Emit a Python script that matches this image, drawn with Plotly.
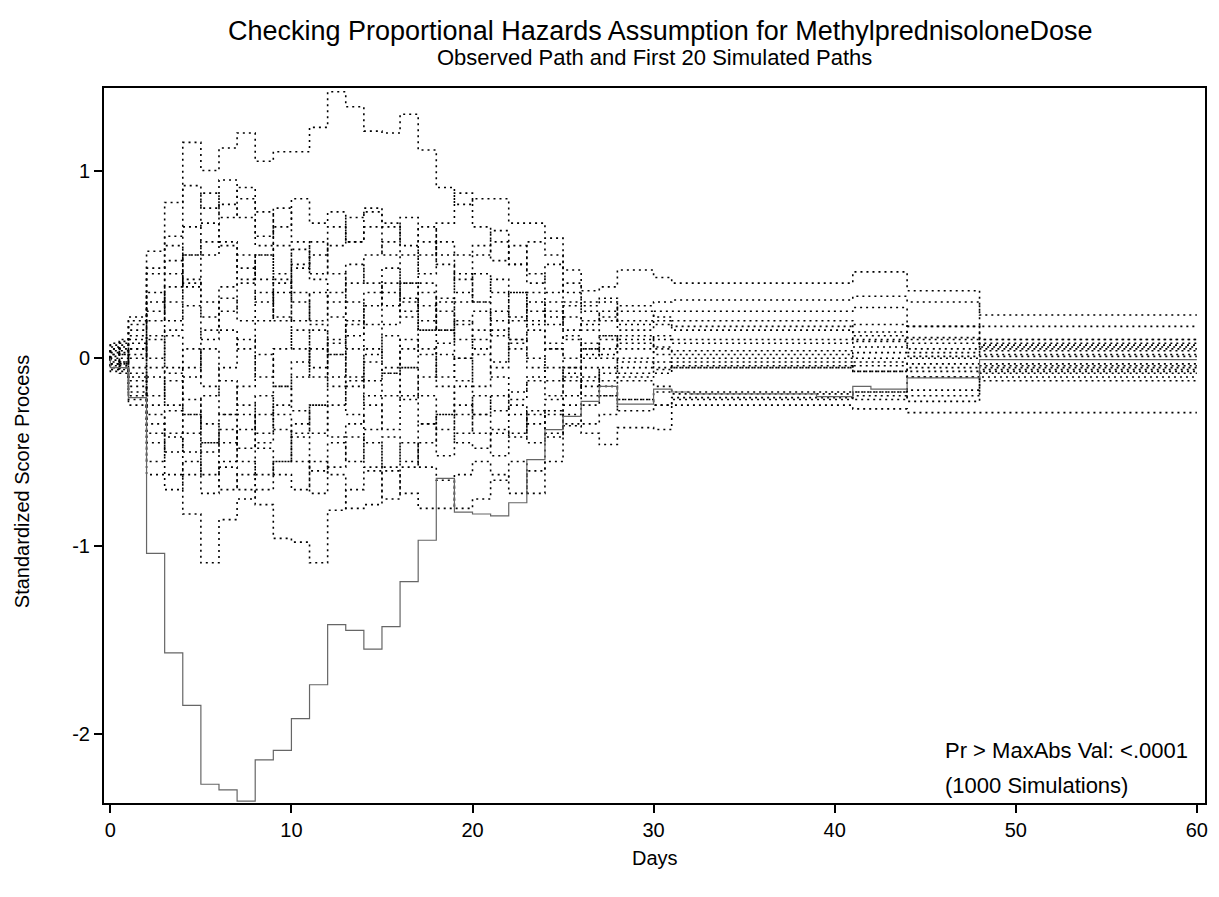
import plotly.graph_objects as go

# event times (days) at which the simulated score paths jump
sim_days = [0, 0.5, 1, 2, 3, 4, 5, 6, 7, 8, 9, 10, 11, 12, 13, 14, 15, 16, 17,
            18, 19, 20, 21, 22, 23, 24, 25, 26, 27, 28, 30, 31, 41, 44, 48]
end_day = 60

# observed path
obs_days = [0, 0, 1, 2, 3, 4, 5, 6, 7, 8, 9, 10, 11, 12, 13, 14, 15, 16, 17, 18, 19,
            20, 21, 22, 23, 24, 25, 26, 27, 28, 30, 31, 32, 39, 41, 42, 44, 48]
obs_vals = [0, -0.05, -0.21, -1.04, -1.57, -1.85, -2.27, -2.30, -2.36, -2.14, -2.09,
            -1.92, -1.74, -1.42, -1.45, -1.55, -1.43, -1.19, -0.97, -0.64, -0.82,
            -0.83, -0.84, -0.77, -0.54, -0.38, -0.31, -0.23, -0.15, -0.245, -0.165,
            -0.18, -0.19, -0.205, -0.15, -0.165, -0.105, -0.007]

# first 20 simulated paths, one value per entry of sim_days
sim01 = [0.05, 0.08, 0.22, 0.57, 0.83, 1.15, 1.00, 1.12, 1.20, 1.05, 1.10, 1.10, 1.23, 1.42, 1.34, 1.21, 1.20, 1.30,
         1.11, 0.91, 0.82, 0.85, 0.85, 0.72, 0.72, 0.64, 0.47, 0.36, 0.38, 0.47, 0.43, 0.40, 0.46, 0.36, 0.23]
sim02 = [-0.03, -0.06, -0.15, -0.45, -0.62, -0.83, -1.09, -0.86, -0.75, -0.62, -0.55, -0.35, -0.25, -0.10, 0.05, -0.12,
         -0.05, 0.10, 0.02, -0.15, -0.30, -0.20, -0.28, -0.18, -0.10, -0.05, -0.12, -0.20, -0.15, -0.22, -0.18, -0.19,
         -0.20, -0.17, -0.10]
sim03 = [0.02, -0.04, -0.10, -0.30, -0.42, -0.50, -0.62, -0.58, -0.70, -0.78, -0.96, -0.98, -1.09, -0.81, -0.70, -0.60,
         -0.42, -0.55, -0.35, -0.30, -0.45, -0.48, -0.38, -0.42, -0.30, -0.28, -0.36, -0.40, -0.46, -0.37, -0.38, -0.25,
         -0.27, -0.29, -0.29]
sim04 = [0.08, 0.10, 0.15, 0.30, 0.52, 0.70, 0.88, 0.75, 0.91, 0.78, 0.60, 0.48, 0.55, 0.70, 0.62, 0.78, 0.72, 0.60,
         0.45, 0.62, 0.55, 0.60, 0.52, 0.60, 0.40, 0.50, 0.30, 0.25, 0.20, 0.28, 0.30, 0.31, 0.33, 0.30, 0.17]
sim05 = [-0.05, -0.02, 0.05, 0.25, 0.45, 0.38, 0.55, 0.62, 0.48, 0.30, 0.42, 0.20, 0.35, 0.22, 0.40, 0.55, 0.62, 0.75,
         0.62, 0.50, 0.35, 0.30, 0.42, 0.35, 0.25, 0.18, 0.22, 0.15, 0.12, 0.10, 0.12, 0.10, 0.12, 0.08, 0.08]
sim06 = [0.03, 0.06, -0.05, -0.20, -0.05, -0.22, -0.35, -0.45, -0.30, -0.48, -0.62, -0.70, -0.55, -0.62, -0.80, -0.78,
         -0.60, -0.72, -0.80, -0.80, -0.62, -0.55, -0.62, -0.72, -0.60, -0.40, -0.30, -0.35, -0.30, -0.22, -0.25, -0.22,
         -0.18, -0.23, -0.12]
sim07 = [-0.06, -0.03, 0.10, 0.35, 0.20, 0.42, 0.30, 0.15, 0.05, 0.20, 0.35, 0.50, 0.62, 0.45, 0.30, 0.18, 0.35, 0.22,
         0.40, 0.25, 0.10, 0.05, 0.15, 0.05, -0.05, 0.05, 0.00, 0.08, 0.05, 0.12, 0.06, 0.04, 0.06, 0.03, 0.04]
sim08 = [0.00, 0.04, -0.20, -0.10, -0.25, -0.40, -0.20, -0.05, 0.10, -0.10, 0.05, 0.15, -0.05, 0.10, -0.10, -0.25,
         -0.38, -0.20, -0.35, -0.52, -0.40, -0.30, -0.20, -0.30, -0.45, -0.30, -0.20, -0.10, -0.20, -0.12, -0.15, -0.18,
         -0.18, -0.10, -0.06]
sim09 = [0.06, 0.02, 0.00, 0.12, 0.30, 0.55, 0.62, 0.82, 0.75, 0.60, 0.45, 0.30, 0.20, 0.35, 0.50, 0.40, 0.28, 0.40,
         0.55, 0.72, 0.88, 0.70, 0.62, 0.50, 0.62, 0.55, 0.35, 0.28, 0.30, 0.20, 0.25, 0.25, 0.27, 0.17, 0.10]
sim10 = [-0.02, 0.00, -0.08, -0.35, -0.50, -0.30, -0.45, -0.70, -0.62, -0.45, -0.30, -0.42, -0.60, -0.45, -0.55, -0.38,
         -0.20, -0.05, 0.05, -0.10, 0.00, -0.15, -0.05, 0.10, 0.00, -0.12, -0.05, 0.02, 0.00, -0.05, -0.02, -0.05,
         -0.04, -0.03, -0.03]
sim11 = [0.04, 0.07, 0.12, 0.00, 0.15, 0.28, 0.10, 0.25, 0.40, 0.55, 0.70, 0.85, 0.72, 0.78, 0.62, 0.70, 0.55, 0.40,
         0.28, 0.15, 0.30, 0.45, 0.35, 0.22, 0.35, 0.25, 0.15, 0.20, 0.25, 0.18, 0.20, 0.17, 0.18, 0.11, 0.05]
sim12 = [-0.04, -0.07, -0.18, -0.40, -0.28, -0.10, 0.05, -0.12, -0.25, -0.40, -0.25, -0.10, 0.05, -0.15, -0.30, -0.45,
         -0.58, -0.45, -0.58, -0.65, -0.80, -0.75, -0.65, -0.55, -0.72, -0.55, -0.35, -0.25, -0.20, -0.28, -0.25, -0.21,
         -0.22, -0.20, -0.07]
sim13 = [0.01, 0.05, 0.18, 0.45, 0.60, 0.40, 0.22, 0.38, 0.55, 0.42, 0.22, 0.05, -0.10, 0.08, 0.20, 0.05, -0.08, 0.05,
         0.20, 0.32, 0.18, 0.25, 0.12, 0.20, 0.30, 0.22, 0.28, 0.18, 0.22, 0.15, 0.18, 0.15, 0.10, 0.10, 0.06]
sim14 = [-0.01, -0.05, -0.12, 0.10, -0.08, 0.05, -0.15, -0.30, -0.15, 0.02, -0.15, -0.28, -0.40, -0.25, -0.12, 0.02,
         0.18, 0.30, 0.15, 0.02, -0.12, 0.02, -0.10, -0.22, -0.12, -0.20, -0.08, -0.15, -0.05, -0.10, -0.08, -0.05,
         -0.02, -0.07, -0.05]
sim15 = [0.07, 0.02, 0.05, -0.25, -0.12, -0.30, -0.50, -0.38, -0.55, -0.70, -0.55, -0.40, -0.25, -0.42, -0.35, -0.20,
         -0.08, -0.22, -0.10, 0.08, 0.20, 0.10, -0.02, 0.08, 0.15, 0.05, -0.05, 0.05, 0.10, 0.00, 0.05, 0.02, 0.00,
         0.00, 0.02]
sim16 = [-0.07, -0.03, 0.02, 0.20, 0.38, 0.55, 0.72, 0.60, 0.42, 0.55, 0.40, 0.58, 0.45, 0.60, 0.75, 0.80, 0.70, 0.55,
         0.70, 0.55, 0.42, 0.55, 0.68, 0.50, 0.45, 0.35, 0.40, 0.30, 0.32, 0.25, 0.22, 0.20, 0.14, 0.17, 0.10]
sim17 = [0.02, -0.02, -0.22, -0.55, -0.40, -0.62, -0.45, -0.30, -0.48, -0.30, -0.15, -0.02, 0.15, 0.02, -0.15, -0.02,
         0.12, -0.05, -0.20, -0.38, -0.25, -0.40, -0.52, -0.40, -0.28, -0.42, -0.25, -0.12, -0.08, -0.02, -0.05, -0.02,
         -0.07, -0.05, -0.04]
sim18 = [-0.03, 0.03, 0.08, -0.05, 0.12, -0.05, 0.15, 0.32, 0.20, 0.35, 0.20, 0.35, 0.18, 0.02, 0.18, 0.35, 0.48, 0.32,
         0.15, 0.30, 0.45, 0.30, 0.20, 0.35, 0.18, 0.08, 0.12, 0.05, 0.02, 0.08, 0.02, 0.00, 0.03, 0.01, 0.01]
sim19 = [0.05, 0.09, 0.20, 0.48, 0.65, 0.92, 0.80, 0.95, 0.85, 0.65, 0.80, 0.62, 0.42, 0.30, 0.12, 0.28, 0.40, 0.25,
         0.35, 0.15, 0.00, 0.15, 0.25, 0.10, 0.20, 0.30, 0.10, 0.00, 0.12, 0.05, 0.10, 0.08, 0.09, 0.05, 0.07]
sim20 = [-0.06, -0.08, -0.25, -0.62, -0.70, -0.55, -0.72, -0.55, -0.38, -0.20, -0.38, -0.55, -0.72, -0.58, -0.42,
         -0.58, -0.75, -0.58, -0.45, -0.30, -0.15, -0.30, -0.40, -0.25, -0.35, -0.22, -0.10, -0.05, -0.12, -0.08, -0.06,
         -0.04, -0.07, -0.10, -0.08]

sims = [sim01, sim02, sim03, sim04, sim05, sim06, sim07, sim08, sim09, sim10,
        sim11, sim12, sim13, sim14, sim15, sim16, sim17, sim18, sim19, sim20]

x_ticks = [0, 10, 20, 30, 40, 50, 60]
y_ticks = [-2, -1, 0, 1]
y_tick_labels = ['-2', '-1', '0', '1']

font_family = 'Arial, "Liberation Sans", sans-serif'

fig = go.Figure()

for vals in sims:
    fig.add_trace(go.Scatter(x=[0] + sim_days + [end_day], y=[0] + vals + [vals[-1]],
                             mode='lines', line=dict(color='black', width=1.6, dash='2px,4px', shape='hv'),
                             hoverinfo='skip', showlegend=False))

fig.add_trace(go.Scatter(x=obs_days + [end_day], y=obs_vals + [obs_vals[-1]],
                         mode='lines', line=dict(color='#666666', width=1.2, shape='hv'),
                         showlegend=False))

fig.update_xaxes(range=[-0.35, 60.45], tickvals=x_ticks, ticks='outside', ticklen=8, tickwidth=1.5,
                 tickcolor='black', showgrid=False, zeroline=False, showline=True, mirror=True,
                 linecolor='black', linewidth=2, tickfont=dict(size=20, color='black'))
fig.update_yaxes(range=[-2.37, 1.44], tickvals=y_ticks, ticktext=y_tick_labels, ticks='outside', ticklen=8,
                 tickwidth=1.5, tickcolor='black', showgrid=False, zeroline=False, showline=True, mirror=True,
                 linecolor='black', linewidth=2, tickfont=dict(size=20, color='black'))

# the page body keeps an 8px margin, so the figure is drawn 8px smaller
annos = [
    dict(text='Checking Proportional Hazards Assumption for MethylprednisoloneDose', x=0.505, y=1.08,
         font=dict(size=27)),
    dict(text='Observed Path and First 20 Simulated Paths', x=0.5, y=1.042, font=dict(size=22)),
    dict(text='Days', x=0.5, y=-0.077, font=dict(size=20)),
    dict(text='Standardized Score Process', x=-0.0743, y=0.449, textangle=-90, font=dict(size=20)),
    dict(text='Pr > MaxAbs Val: <.0001', x=0.762, y=0.0741, xanchor='left', font=dict(size=22)),
    dict(text='(1000 Simulations)', x=0.762, y=0.0238, xanchor='left', font=dict(size=22)),
]
for a in annos:
    a.setdefault('xanchor', 'center')
    a['font']['color'] = 'black'
    fig.add_annotation(xref='paper', yref='paper', showarrow=False, yanchor='middle', **a)

fig.update_layout(width=1211, height=889, margin=dict(l=96, r=11, t=80, b=94),
                  plot_bgcolor='white', paper_bgcolor='white',
                  font=dict(family=font_family, color='black'))

fig.write_html("out.html")
